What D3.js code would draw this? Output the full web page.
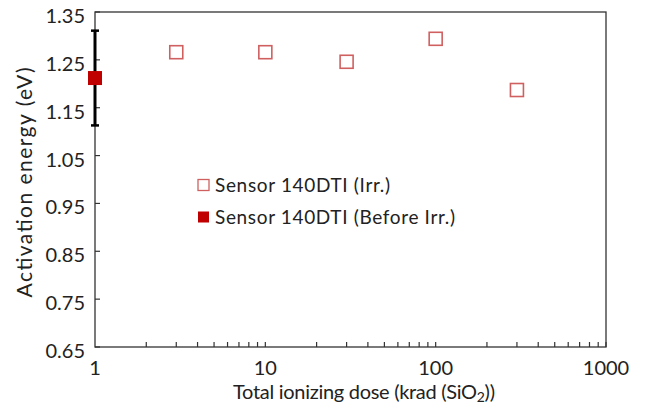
<!DOCTYPE html>
<html>
<head>
<meta charset="utf-8">
<script src="https://cdn.jsdelivr.net/npm/d3@7"></script>
<style>
  body { margin: 0; background: #fff; }
  text { font-family: Lato, "Open Sans", sans-serif; fill: #222; }
</style>
</head>
<body>
<div class="chart"></div>
<script>
var irrDose = [3, 10, 30, 100, 300];
var irrEa = [1.266, 1.266, 1.246, 1.294, 1.187];
var beforeDose = [1];
var beforeEa = [1.212];
var beforeErr = [0.099];
var yTicks = [0.65, 0.75, 0.85, 0.95, 1.05, 1.15, 1.25, 1.35];
var xTicks = [1, 10, 100, 1000];
var legendLabels = ['Sensor 140DTI (Irr.)', 'Sensor 140DTI (Before Irr.)'];

var w = 657,
    h = 415;
var m = {left: 95, right: 51, top: 12, bottom: 68};
var red = '#c00000';

var svg = d3.select('.chart').append('svg').attr('width', w).attr('height', h);

var x = d3.scaleLog().domain([1, 1000]).range([m.left, w - m.right]);
var y = d3.scaleLinear().domain([0.65, 1.35]).range([h - m.bottom, m.top]);

// frame
svg.append('rect')
   .attr('x', m.left).attr('y', m.top)
   .attr('width', w - m.right - m.left).attr('height', h - m.bottom - m.top)
   .attr('fill', 'none').attr('stroke', '#333').attr('stroke-width', 1.3);

// x minor ticks (inward)
var minor = [];
[1, 10, 100].forEach(function (d) {
  for (var k = 2; k <= 10; k++) minor.push(d * k);
});
svg.selectAll('.xtick')
   .data(minor)
   .enter().append('line')
   .attr('x1', function (d) { return x(d); })
   .attr('x2', function (d) { return x(d); })
   .attr('y1', h - m.bottom)
   .attr('y2', h - m.bottom - 5)
   .attr('stroke', '#333').attr('stroke-width', 1.2);

svg.selectAll('.xlab')
   .data(xTicks)
   .enter().append('text')
   .attr('x', function (d) { return x(d); })
   .attr('y', h - m.bottom + 28)
   .attr('text-anchor', 'middle')
   .attr('font-size', 20)
   .text(function (d) { return d; });

// y ticks (inward)
svg.selectAll('.ytick')
   .data(yTicks)
   .enter().append('line')
   .attr('x1', m.left)
   .attr('x2', m.left + 5)
   .attr('y1', function (d) { return y(d); })
   .attr('y2', function (d) { return y(d); })
   .attr('stroke', '#333').attr('stroke-width', 1.2);

svg.selectAll('.ylab')
   .data(yTicks)
   .enter().append('text')
   .attr('x', m.left - 10)
   .attr('y', function (d) { return y(d) + 11; })
   .attr('text-anchor', 'end')
   .attr('font-size', 20)
   .text(function (d) { return d3.format('.2f')(d); });

// axis titles
svg.append('text')
   .attr('transform', 'translate(32,' + ((m.top + h - m.bottom) / 2 + 3) + ') rotate(-90)')
   .attr('text-anchor', 'middle')
   .attr('font-size', 21)
   .attr('textLength', 230)
   .text('Activation energy (eV)');

var xt = svg.append('text')
   .attr('x', 233)
   .attr('y', h - 16)
   .attr('font-size', 20)
   .attr('textLength', 262);
xt.append('tspan').text('Total ionizing dose (krad (SiO');
xt.append('tspan').attr('font-size', 14).attr('dy', 3).text('2');
xt.append('tspan').attr('dy', -3).text('))');

// error bar
var before = beforeDose.map(function (d, i) { return {x: d, y: beforeEa[i], e: beforeErr[i]}; });
var eb = svg.selectAll('.err').data(before).enter().append('g');
eb.append('line')
  .attr('x1', function (d) { return x(d.x); }).attr('x2', function (d) { return x(d.x); })
  .attr('y1', function (d) { return y(d.y + d.e); }).attr('y2', function (d) { return y(d.y - d.e); })
  .attr('stroke', '#000').attr('stroke-width', 3);
[1, -1].forEach(function (s) {
  eb.append('line')
    .attr('x1', function (d) { return x(d.x) - 4; }).attr('x2', function (d) { return x(d.x) + 4; })
    .attr('y1', function (d) { return y(d.y + s * d.e); }).attr('y2', function (d) { return y(d.y + s * d.e); })
    .attr('stroke', '#000').attr('stroke-width', 2.5);
});
eb.append('rect')
  .attr('x', function (d) { return x(d.x) - 7; })
  .attr('y', function (d) { return y(d.y) - 7; })
  .attr('width', 14).attr('height', 14)
  .attr('fill', red);

// irradiated points
svg.selectAll('.irr')
   .data(irrDose)
   .enter().append('rect')
   .attr('x', function (d) { return x(d) - 6.5; })
   .attr('y', function (d, i) { return y(irrEa[i]) - 6.5; })
   .attr('width', 13).attr('height', 13)
   .attr('fill', 'none')
   .attr('stroke', '#d06060').attr('stroke-width', 1.6);

// legend
var legendWidths = [175, 240];
var lg = svg.append('g').attr('transform', 'translate(198,185)');
lg.append('rect').attr('x', 0).attr('y', -5.5).attr('width', 11).attr('height', 11)
  .attr('fill', 'none').attr('stroke', '#d06060').attr('stroke-width', 1.3);
lg.append('rect').attr('x', 0).attr('y', 26.5).attr('width', 11).attr('height', 11)
  .attr('fill', red);
lg.selectAll('.lt')
  .data(legendLabels)
  .enter().append('text')
  .attr('x', 17)
  .attr('y', function (d, i) { return i * 32 + 7; })
  .attr('font-size', 19)
  .attr('textLength', function (d, i) { return legendWidths[i]; })
  .text(function (d) { return d; });
</script>
</body>
</html>
